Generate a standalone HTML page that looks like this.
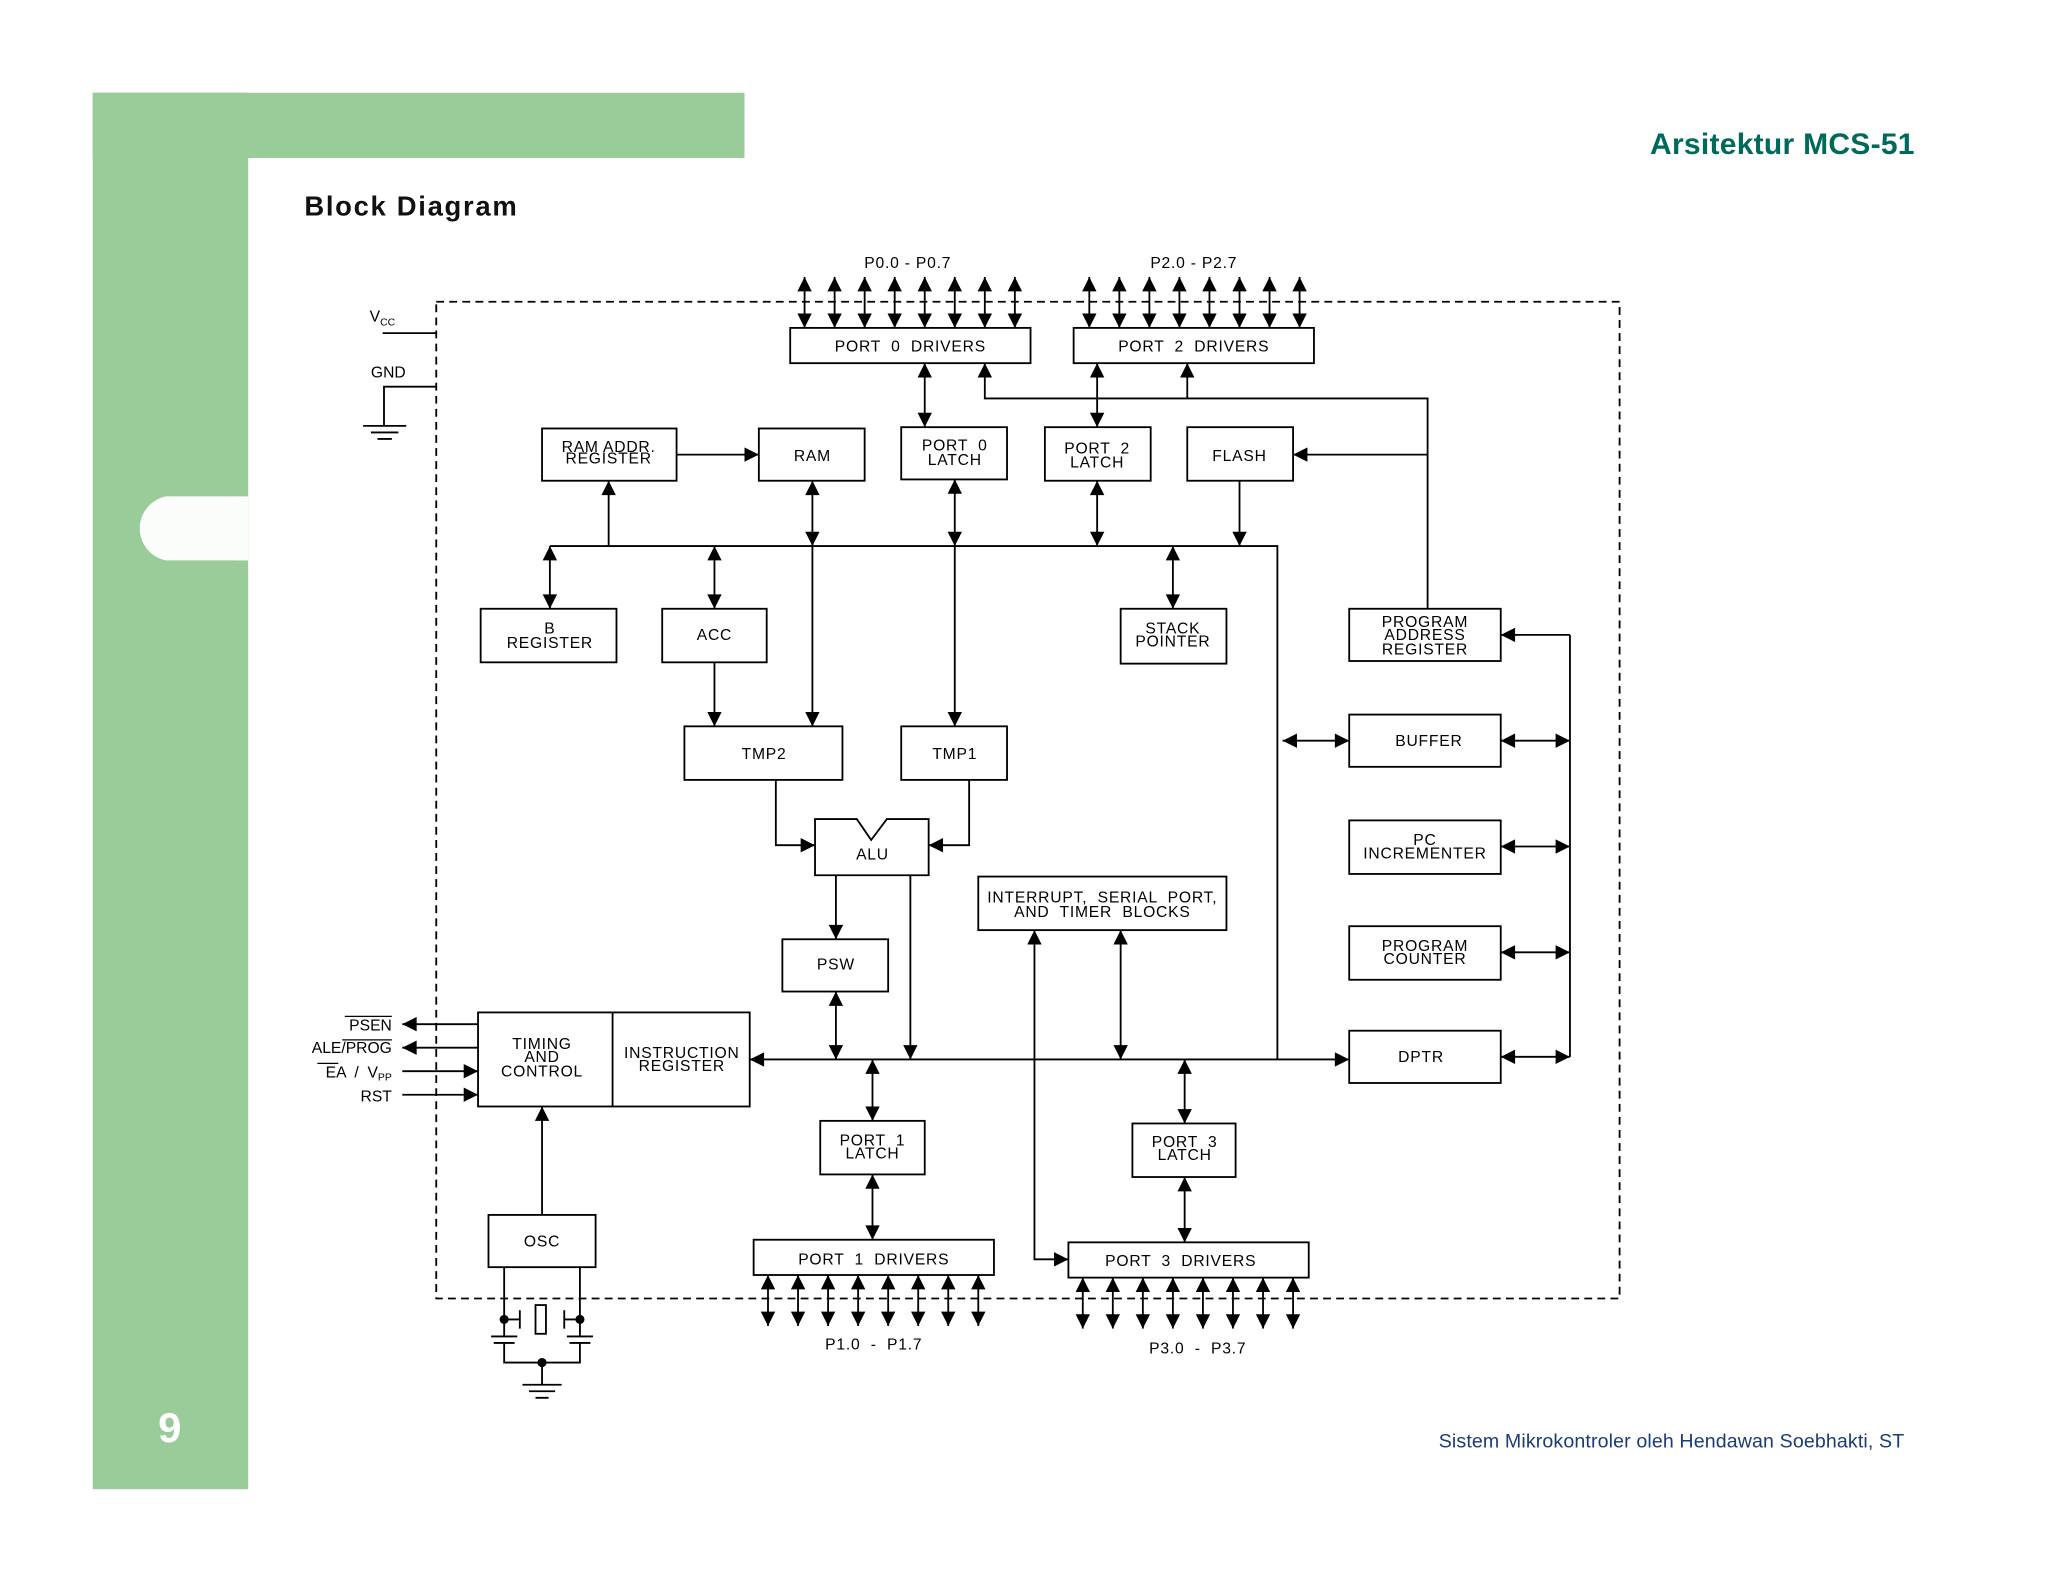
<!DOCTYPE html>
<html><head><meta charset="utf-8"><style>
html,body{margin:0;padding:0;background:#fff;}
svg{display:block;}
</style></head><body>
<svg width="2048" height="1582" viewBox="0 0 1568 1211" preserveAspectRatio="none" xmlns="http://www.w3.org/2000/svg">
<defs>
<marker id="a" viewBox="0 0 10 10" refX="10" refY="5" markerWidth="12" markerHeight="11" markerUnits="userSpaceOnUse" orient="auto-start-reverse">
<path d="M0,0 L10,5 L0,10 z" fill="#000"/></marker>
</defs>
<rect x="0" y="0" width="1568" height="1211" fill="#fff"/>
<rect x="71" y="71" width="119" height="1069" fill="#99cc99"/>
<rect x="71" y="71" width="499" height="50" fill="#99cc99"/>
<path d="M190,380 L132,380 A25,25 0 0 0 132,429 L190,429 z" fill="#fbfdfb" transform="translate(-5,0)"/>
<rect x="180" y="380" width="10" height="49" fill="#fbfdfb"/>
<text x="130" y="1104" font-family="Liberation Sans, sans-serif" font-size="32" font-weight="bold" fill="#fff" text-anchor="middle">9</text>
<text x="1466" y="118" font-family="Liberation Sans, sans-serif" font-size="23" font-weight="bold" fill="#006a5a" text-anchor="end" letter-spacing="0.2">Arsitektur MCS-51</text>
<text x="233" y="165" font-family="Liberation Sans, sans-serif" font-size="21" font-weight="bold" fill="#111" letter-spacing="1.3">Block Diagram</text>
<text x="1458" y="1108" font-family="Liberation Sans, sans-serif" font-size="15" fill="#1a3a7a" text-anchor="end" letter-spacing="0.1">Sistem Mikrokontroler oleh Hendawan Soebhakti, ST</text>

<g fill="none" stroke="#000" stroke-width="1.4">
<rect x="334" y="231" width="906" height="763" stroke-dasharray="6,4"/>
<rect x="605" y="251" width="184" height="27"/>
<rect x="822" y="251" width="184" height="27"/>
<rect x="415" y="328" width="103" height="40"/>
<rect x="581" y="328" width="81" height="40"/>
<rect x="690" y="327" width="81" height="40"/>
<rect x="800" y="327" width="81" height="41"/>
<rect x="909" y="327" width="81" height="41"/>
<rect x="368" y="466" width="104" height="41"/>
<rect x="507" y="466" width="80" height="41"/>
<rect x="858" y="466" width="81" height="42"/>
<rect x="1033" y="466" width="116" height="40"/>
<rect x="1033" y="547" width="116" height="40"/>
<rect x="1033" y="628" width="116" height="41"/>
<rect x="1033" y="709" width="116" height="41"/>
<rect x="1033" y="789" width="116" height="40"/>
<rect x="524" y="556" width="121" height="41"/>
<rect x="690" y="556" width="81" height="41"/>
<path d="M624,627 L656,627 L667,643 L679,627 L711,627 L711,670 L624,670 z"/>
<rect x="749" y="671" width="190" height="41"/>
<rect x="599" y="719" width="81" height="40"/>
<rect x="366" y="775" width="208" height="72"/>
<line x1="469" y1="775" x2="469" y2="847"/>
<rect x="628" y="858" width="80" height="41"/>
<rect x="867" y="860" width="79" height="41"/>
<rect x="374" y="930" width="82" height="40"/>
<rect x="577" y="949" width="184" height="27"/>
<rect x="818" y="951" width="184" height="27"/>
<path d="M293,255 L334,255"/>
<path d="M334,296 L294,296 L294,326"/>
<path d="M278,326 L311,326 M284,331 L305,331 M289,336 L300,336"/>
<path d="M421,418 L978,418 L978,811"/>
<line x1="574" y1="811" x2="1033" y2="811" marker-start="url(#a)" marker-end="url(#a)"/>
<path d="M1202,486 L1202,809"/>
</g>
<g fill="none" stroke="#000" stroke-width="1.4">
<g id="p0">
<line x1="616" y1="212" x2="616" y2="251" marker-start="url(#a)" marker-end="url(#a)"/>
<line x1="639" y1="212" x2="639" y2="251" marker-start="url(#a)" marker-end="url(#a)"/>
<line x1="662" y1="212" x2="662" y2="251" marker-start="url(#a)" marker-end="url(#a)"/>
<line x1="685" y1="212" x2="685" y2="251" marker-start="url(#a)" marker-end="url(#a)"/>
<line x1="708" y1="212" x2="708" y2="251" marker-start="url(#a)" marker-end="url(#a)"/>
<line x1="731" y1="212" x2="731" y2="251" marker-start="url(#a)" marker-end="url(#a)"/>
<line x1="754" y1="212" x2="754" y2="251" marker-start="url(#a)" marker-end="url(#a)"/>
<line x1="777" y1="212" x2="777" y2="251" marker-start="url(#a)" marker-end="url(#a)"/>
</g>
<use href="#p0" transform="translate(218,0)"/>
<g id="p1">
<line x1="588" y1="976" x2="588" y2="1015" marker-start="url(#a)" marker-end="url(#a)"/>
<line x1="611" y1="976" x2="611" y2="1015" marker-start="url(#a)" marker-end="url(#a)"/>
<line x1="634" y1="976" x2="634" y2="1015" marker-start="url(#a)" marker-end="url(#a)"/>
<line x1="657" y1="976" x2="657" y2="1015" marker-start="url(#a)" marker-end="url(#a)"/>
<line x1="680" y1="976" x2="680" y2="1015" marker-start="url(#a)" marker-end="url(#a)"/>
<line x1="703" y1="976" x2="703" y2="1015" marker-start="url(#a)" marker-end="url(#a)"/>
<line x1="726" y1="976" x2="726" y2="1015" marker-start="url(#a)" marker-end="url(#a)"/>
<line x1="749" y1="976" x2="749" y2="1015" marker-start="url(#a)" marker-end="url(#a)"/>
</g>
<use href="#p1" transform="translate(241,2)"/>
<path d="M1093,466 L1093,305 L754,305 L754,278" marker-end="url(#a)"/>
<line x1="909" y1="305" x2="909" y2="278" marker-end="url(#a)"/>
<line x1="1093" y1="348" x2="990" y2="348" marker-end="url(#a)"/>
<line x1="708" y1="278" x2="708" y2="327" marker-start="url(#a)" marker-end="url(#a)"/>
<line x1="840" y1="278" x2="840" y2="327" marker-start="url(#a)" marker-end="url(#a)"/>
<line x1="466" y1="418" x2="466" y2="368" marker-end="url(#a)"/>
<line x1="518" y1="348" x2="581" y2="348" marker-end="url(#a)"/>
<line x1="622" y1="368" x2="622" y2="418" marker-start="url(#a)" marker-end="url(#a)"/>
<line x1="622" y1="418" x2="622" y2="556" marker-end="url(#a)"/>
<line x1="731" y1="367" x2="731" y2="418" marker-start="url(#a)" marker-end="url(#a)"/>
<line x1="731" y1="418" x2="731" y2="556" marker-end="url(#a)"/>
<line x1="840" y1="368" x2="840" y2="418" marker-start="url(#a)" marker-end="url(#a)"/>
<line x1="949" y1="368" x2="949" y2="418" marker-end="url(#a)"/>
<line x1="421" y1="418" x2="421" y2="466" marker-start="url(#a)" marker-end="url(#a)"/>
<line x1="547" y1="418" x2="547" y2="466" marker-start="url(#a)" marker-end="url(#a)"/>
<line x1="547" y1="507" x2="547" y2="556" marker-end="url(#a)"/>
<line x1="898" y1="418" x2="898" y2="466" marker-start="url(#a)" marker-end="url(#a)"/>
<path d="M594,597 L594,647 L624,647" marker-end="url(#a)"/>
<path d="M742,597 L742,647 L711,647" marker-end="url(#a)"/>
<line x1="640" y1="670" x2="640" y2="719" marker-end="url(#a)"/>
<line x1="697" y1="670" x2="697" y2="811" marker-end="url(#a)"/>
<line x1="640" y1="759" x2="640" y2="811" marker-start="url(#a)" marker-end="url(#a)"/>
<line x1="858" y1="712" x2="858" y2="811" marker-start="url(#a)" marker-end="url(#a)"/>
<path d="M792,712 L792,964 L818,964" marker-start="url(#a)" marker-end="url(#a)"/>
<line x1="668" y1="811" x2="668" y2="858" marker-start="url(#a)" marker-end="url(#a)"/>
<line x1="668" y1="899" x2="668" y2="949" marker-start="url(#a)" marker-end="url(#a)"/>
<line x1="907" y1="811" x2="907" y2="860" marker-start="url(#a)" marker-end="url(#a)"/>
<line x1="907" y1="901" x2="907" y2="951" marker-start="url(#a)" marker-end="url(#a)"/>
<line x1="982" y1="567" x2="1033" y2="567" marker-start="url(#a)" marker-end="url(#a)"/>
<line x1="1149" y1="486" x2="1202" y2="486" marker-start="url(#a)"/>
<line x1="1149" y1="567" x2="1202" y2="567" marker-start="url(#a)" marker-end="url(#a)"/>
<line x1="1149" y1="648" x2="1202" y2="648" marker-start="url(#a)" marker-end="url(#a)"/>
<line x1="1149" y1="729" x2="1202" y2="729" marker-start="url(#a)" marker-end="url(#a)"/>
<line x1="1149" y1="809" x2="1202" y2="809" marker-start="url(#a)" marker-end="url(#a)"/>
<line x1="366" y1="784" x2="308" y2="784" marker-end="url(#a)"/>
<line x1="366" y1="802" x2="308" y2="802" marker-end="url(#a)"/>
<line x1="308" y1="820" x2="366" y2="820" marker-end="url(#a)"/>
<line x1="308" y1="838" x2="366" y2="838" marker-end="url(#a)"/>
<line x1="415" y1="930" x2="415" y2="847" marker-end="url(#a)"/>
<path d="M386,970 L386,1023 M444,970 L444,1023 M386,1010 L398,1010 M398,1003 L398,1017 M444,1010 L432,1010 M432,1003 L432,1017"/>
<rect x="410" y="999" width="8" height="22"/>
<path d="M376,1023 L396,1023 M378,1028 L394,1028 M386,1028 L386,1043 L444,1043 L444,1028 M434,1023 L454,1023 M436,1028 L452,1028"/>
<path d="M415,1043 L415,1060 M400,1060 L430,1060 M405,1065 L425,1065 M410,1070 L420,1070"/>
</g>
<g fill="#000"><circle cx="386" cy="1010" r="3.5"/><circle cx="444" cy="1010" r="3.5"/><circle cx="415" cy="1043" r="3.5"/></g>

<g font-family="Liberation Sans, sans-serif" font-size="12" fill="#000" text-anchor="middle" letter-spacing="0.6">
<text x="695" y="205">P0.0  -  P0.7</text>
<text x="914" y="205">P2.0  -  P2.7</text>
<text x="697" y="269" xml:space="preserve">PORT  0  DRIVERS</text>
<text x="914" y="269" xml:space="preserve">PORT  2  DRIVERS</text>
<text x="466" y="346">RAM ADDR.</text><text x="466" y="355">REGISTER</text>
<text x="622" y="353">RAM</text>
<text x="731" y="345" xml:space="preserve">PORT  0</text><text x="731" y="356">LATCH</text>
<text x="840" y="347" xml:space="preserve">PORT  2</text><text x="840" y="358">LATCH</text>
<text x="949" y="353">FLASH</text>
<text x="421" y="485">B</text><text x="421" y="496">REGISTER</text>
<text x="547" y="490">ACC</text>
<text x="898" y="485">STACK</text><text x="898" y="495">POINTER</text>
<text x="1091" y="480">PROGRAM</text><text x="1091" y="490">ADDRESS</text><text x="1091" y="501">REGISTER</text>
<text x="1094" y="571">BUFFER</text>
<text x="1091" y="647">PC</text><text x="1091" y="657">INCREMENTER</text>
<text x="1091" y="728">PROGRAM</text><text x="1091" y="738">COUNTER</text>
<text x="1088" y="813">DPTR</text>
<text x="585" y="581">TMP2</text>
<text x="731" y="581">TMP1</text>
<text x="668" y="658">ALU</text>
<text x="844" y="691" xml:space="preserve">INTERRUPT,  SERIAL  PORT,</text><text x="844" y="702" xml:space="preserve">AND  TIMER  BLOCKS</text>
<text x="640" y="742">PSW</text>
<text x="415" y="803">TIMING</text><text x="415" y="813">AND</text><text x="415" y="824">CONTROL</text>
<text x="522" y="810">INSTRUCTION</text><text x="522" y="820">REGISTER</text>
<text x="668" y="877" xml:space="preserve">PORT  1</text><text x="668" y="887">LATCH</text>
<text x="907" y="878" xml:space="preserve">PORT  3</text><text x="907" y="888">LATCH</text>
<text x="415" y="954">OSC</text>
<text x="669" y="968" xml:space="preserve">PORT  1  DRIVERS</text>
<text x="904" y="969" xml:space="preserve">PORT  3  DRIVERS</text>
<text x="669" y="1033" xml:space="preserve">P1.0  -  P1.7</text>
<text x="917" y="1036" xml:space="preserve">P3.0  -  P3.7</text>
</g>
<g font-family="Liberation Sans, sans-serif" font-size="12" fill="#000" text-anchor="end">
<text x="300" y="789">PSEN</text>
<text x="300" y="806">ALE/PROG</text>
<text x="300" y="825" xml:space="preserve">EA  /  V<tspan font-size="8" dy="2">PP</tspan></text>
<text x="300" y="843">RST</text>
</g>
<g stroke="#000" stroke-width="1"><line x1="264" y1="778" x2="300" y2="778"/><line x1="262" y1="796" x2="300" y2="796"/><line x1="243" y1="814" x2="259" y2="814"/></g>
<text x="283" y="246" font-family="Liberation Sans, sans-serif" font-size="12">V<tspan font-size="8" dy="3">CC</tspan></text>
<text x="284" y="289" font-family="Liberation Sans, sans-serif" font-size="12">GND</text>
</svg>
</body></html>
